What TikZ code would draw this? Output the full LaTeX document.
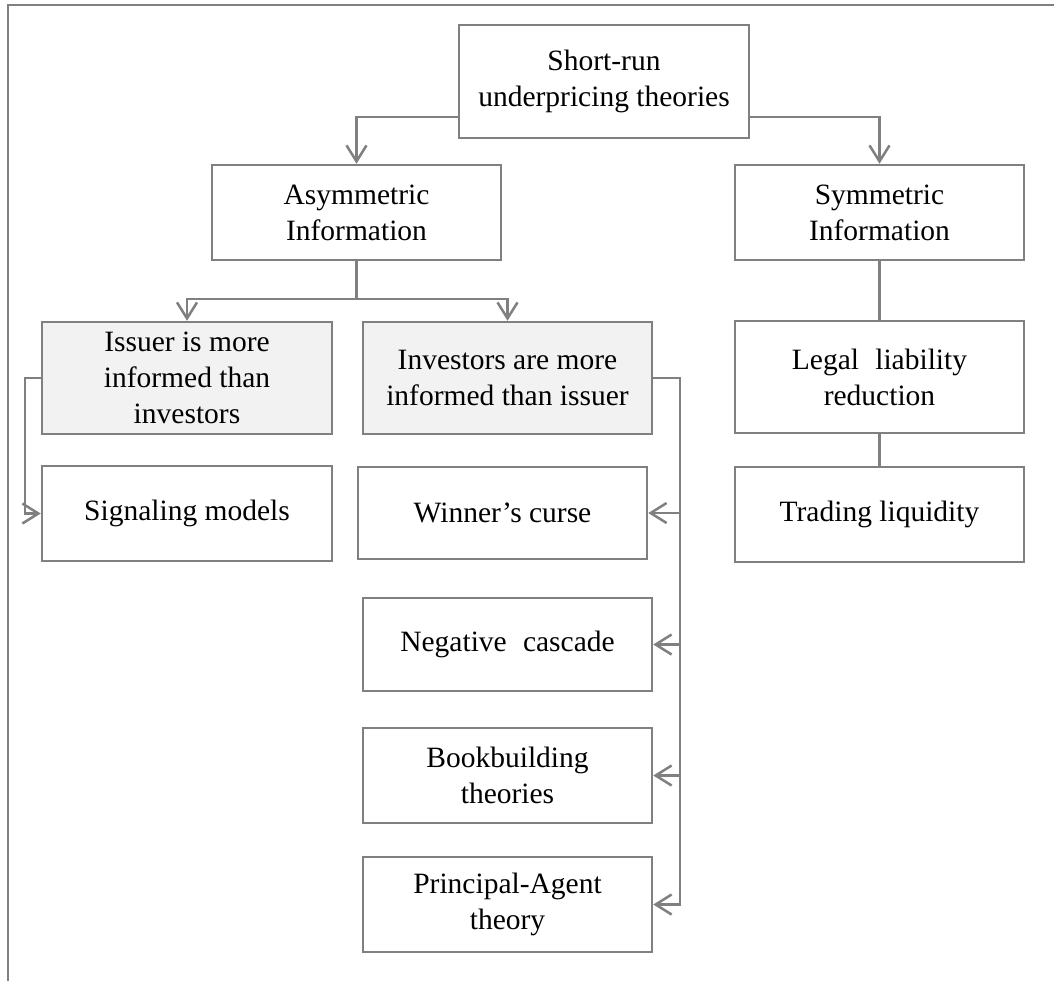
\documentclass[tikz,border=0pt]{standalone}
\usepackage{fontspec}
\setmainfont{Liberation Serif}
\usetikzlibrary{arrows.meta}
\definecolor{linegray}{RGB}{128,128,128}
\definecolor{boxfill}{RGB}{242,242,242}
\tikzset{
  box/.style={draw=linegray, line width=2.5pt, minimum width=289pt, minimum height=95pt,
    align=center, inner sep=2pt, font=\fontsize{29.5}{36}\selectfont, text=black},
  shaded/.style={box, fill=boxfill},
  conn/.style={draw=linegray, line width=2.5pt},
  arr/.style={conn, -{Straight Barb[length=16pt,width=20pt,line width=2.5pt]}},
  frameline/.style={draw=linegray, line width=2.5pt}
}
\begin{document}
\begin{tikzpicture}[x=1pt,y=-1pt]
\useasboundingbox (0,0) rectangle (1054,980);
\draw[frameline] (8,990) -- (8,5) -- (1064,5);

\node[box, minimum width=290pt, minimum height=113pt] (top) at (604,81.5) {Short-run\\underpricing theories};
\node[box] (asym) at (356.5,212.5) {Asymmetric\\Information};
\node[box] (sym) at (879.5,212.5) {Symmetric\\Information};
\node[shaded, minimum width=290pt, minimum height=112pt] (issuer) at (187,378) {Issuer is more\\informed than\\investors};
\node[shaded, minimum height=112pt] (investors) at (507.5,378) {Investors are more\\informed than issuer};
\node[box, minimum height=112pt] (legal) at (879.5,377) {Legal\hspace{0.3em} liability\\reduction};
\node[box, minimum width=290pt] (signaling) at (187,513.5) {Signaling models};
\node[box, minimum height=92pt] (winner) at (502.5,513) {Winner’s curse};
\node[box] (trading) at (879.5,514.5) {Trading liquidity};
\node[box, minimum height=93pt] (negative) at (507.5,644.5) {Negative\hspace{0.3em} cascade};
\node[box] (book) at (507.5,775.5) {Bookbuilding\\theories};
\node[box] (principal) at (507.5,904.5) {Principal-Agent\\theory};

\draw[arr] ([yshift=-35.5pt]top.west) -| (asym.north);
\draw[arr] ([yshift=-35.5pt]top.east) -| (sym.north);

\coordinate (aj) at (356.5,299);
\draw[conn] (asym.south) -- (aj);
\draw[arr] (aj) -| (issuer.north);
\draw[arr] (aj) -| (investors.north);

\draw[conn] (sym.south) -- (legal.north);
\draw[conn] (legal.south) -- (trading.north);

\coordinate (il) at (25,378);
\draw[arr] (issuer.west) -- (il) |- (signaling.west);

\coordinate (ir) at (680,378);
\draw[arr] (investors.east) -- (ir) |- (principal.east);
\draw[arr] (ir |- winner.east) -- (winner.east);
\draw[arr] (ir |- negative.east) -- (negative.east);
\draw[arr] (ir |- book.east) -- (book.east);
\end{tikzpicture}
\end{document}
